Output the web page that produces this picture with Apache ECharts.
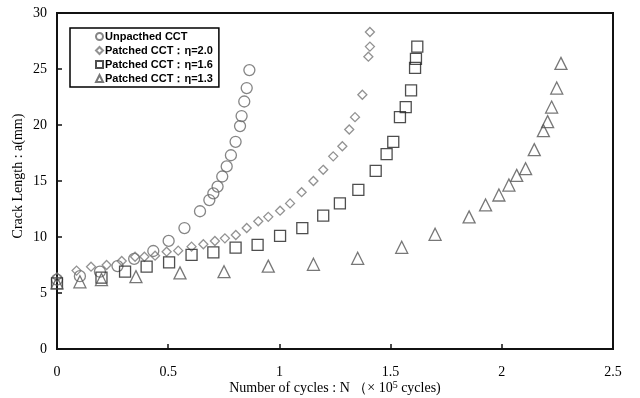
<!DOCTYPE html>
<html>
<head>
<meta charset="utf-8">
<script src="https://cdn.jsdelivr.net/npm/echarts@6/dist/echarts.min.js"></script>
<style>
html,body{margin:0;padding:0;background:#fff;}
#chart{width:640px;height:398px;}
</style>
</head>
<body>
<div id="chart"></div>
<script>
// [N (x1e5 cycles), a (mm)]
var unpatched = [[0,6.2],[0.103,6.5],[0.193,6.9],[0.272,7.4],[0.347,8.05],[0.433,8.75],[0.502,9.65],[0.573,10.8],[0.643,12.3],[0.685,13.3],[0.703,13.9],[0.722,14.5],[0.743,15.4],[0.763,16.3],[0.782,17.3],[0.803,18.5],[0.823,19.9],[0.830,20.8],[0.842,22.1],[0.853,23.3],[0.865,24.9]];
var eta20 = [[0,6.4],[0.088,7.0],[0.153,7.35],[0.223,7.5],[0.291,7.86],[0.351,8.24],[0.393,8.24],[0.441,8.33],[0.493,8.69],[0.545,8.78],[0.605,9.14],[0.658,9.35],[0.71,9.64],[0.755,9.88],[0.804,10.18],[0.853,10.8],[0.905,11.4],[0.95,11.8],[1.003,12.35],[1.048,13.0],[1.10,14.0],[1.153,15.0],[1.197,16.0],[1.242,17.2],[1.283,18.1],[1.314,19.6],[1.34,20.7],[1.373,22.7],[1.40,26.1],[1.407,27.0],[1.407,28.3]];
var eta16 = [[0,5.86],[0.2,6.37],[0.306,6.9],[0.403,7.35],[0.504,7.74],[0.605,8.4],[0.703,8.63],[0.803,9.05],[0.902,9.29],[1.003,10.1],[1.103,10.8],[1.197,11.9],[1.272,13.0],[1.355,14.2],[1.433,15.9],[1.482,17.4],[1.512,18.5],[1.542,20.7],[1.568,21.6],[1.592,23.1],[1.61,25.1],[1.614,25.9],[1.62,27.0]];
var eta13 = [[0,5.9],[0.103,6.0],[0.2,6.2],[0.355,6.46],[0.553,6.8],[0.751,6.9],[0.95,7.4],[1.153,7.56],[1.352,8.1],[1.55,9.08],[1.70,10.24],[1.853,11.8],[1.927,12.86],[1.987,13.75],[2.032,14.64],[2.067,15.5],[2.107,16.1],[2.146,17.8],[2.187,19.5],[2.206,20.3],[2.224,21.6],[2.247,23.3],[2.266,25.5]];
var seriesNames = ['Unpacthed CCT','Patched CCT：η=2.0','Patched CCT：η=1.6','Patched CCT：η=1.3'];

var serif = '"Liberation Serif","DejaVu Serif",serif';

function mk(name,data,symbol,size,color){
	return {
		name:name,
		type:'scatter',
		data:data,
		symbol:symbol,
		symbolSize:size,
		itemStyle:{color:'transparent',borderColor:color,borderWidth:1.3},
		emphasis:{disabled:true}
	};
}

var chart = echarts.init(document.getElementById('chart'));
var option = {
	animation:false,
	grid:{left:57,right:27,top:13,bottom:49,show:true,borderColor:'#111',borderWidth:2,outerBoundsMode:'none'},
	legend:{
		orient:'vertical',
		left:70,
		top:28,
		padding:[3,6,3,25],
		itemGap:3,
		itemWidth:7,
		itemHeight:7,
		borderColor:'#000',
		borderWidth:1.5,
		textStyle:{fontFamily:'"Liberation Sans",Arial,sans-serif',fontWeight:'bold',fontSize:11,color:'#000',padding:[0,0,0,-3]},
		data:seriesNames
	},
	xAxis:{
		type:'value',
		min:0,
		max:2.5,
		interval:0.5,
		name:'{a|Number of cycles : N （× 10}{s|5}{a| cycles)}',
		nameLocation:'middle',
		nameGap:31,
		nameMoveOverlap:false,
		nameTextStyle:{rich:{
			a:{fontFamily:serif,fontSize:14,color:'#000'},
			s:{fontFamily:serif,fontSize:10,color:'#000',verticalAlign:'top',padding:[0,0,6,0]}
		}},
		axisLine:{lineStyle:{color:'#111',width:2}},
		axisTick:{inside:true,length:5,lineStyle:{color:'#111',width:1.5}},
		axisLabel:{fontFamily:serif,fontSize:14,color:'#000',margin:16},
		splitLine:{show:false}
	},
	yAxis:{
		type:'value',
		min:0,
		max:30,
		interval:5,
		name:'Crack Length : a(mm)',
		nameLocation:'middle',
		nameGap:32,
		nameMoveOverlap:false,
		nameTextStyle:{fontFamily:serif,fontSize:14,color:'#000',padding:[0,0,0,10]},
		axisLine:{lineStyle:{color:'#111',width:2}},
		axisTick:{inside:true,length:5,lineStyle:{color:'#111',width:1.5}},
		axisLabel:{fontFamily:serif,fontSize:14,color:'#000',margin:10},
		splitLine:{show:false}
	},
	series:[
		mk(seriesNames[0],unpatched,'circle',11,'#666'),
		mk(seriesNames[1],eta20,'diamond',9,'#777'),
		mk(seriesNames[2],eta16,'rect',11,'#222'),
		mk(seriesNames[3],eta13,'triangle',12,'#555')
	]
};
chart.setOption(option);
</script>
</body>
</html>
